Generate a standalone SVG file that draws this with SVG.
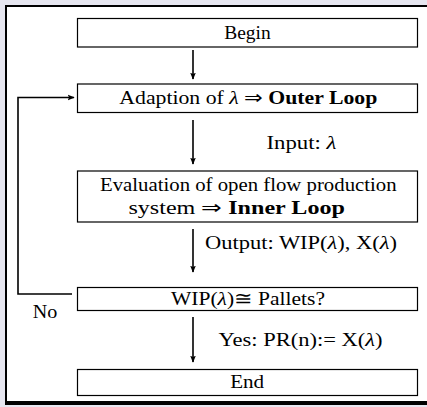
<svg xmlns="http://www.w3.org/2000/svg" width="427" height="407" viewBox="0 0 427 407">
<style>
.box{fill:#fff;stroke:#000;stroke-width:1.2}
.t{font-family:"Liberation Serif","Times New Roman",serif;font-size:18.5px;fill:#000;text-anchor:middle}
.tl{font-family:"Liberation Serif","Times New Roman",serif;font-size:18.5px;fill:#000}
.b{font-weight:bold}
.m{font-style:italic}
.c{fill:none;stroke:#000;stroke-width:1.6}
</style>
<defs>
<marker id="ah" viewBox="0 0 10 10" refX="9" refY="5" markerWidth="7" markerHeight="7" markerUnits="userSpaceOnUse" orient="auto">
<path d="M0,1 L10,5 L0,9 L2,5 Z" fill="#000"/>
</marker>
</defs>
<rect x="0" y="0" width="427" height="407" fill="#e6e6f0"/>
<rect x="6" y="6" width="430" height="397" fill="#fff" stroke="#000" stroke-width="2"/>
<line x1="5" y1="403" x2="427" y2="403" stroke="#000" stroke-width="4"/>

<g id="connectors">
<line class="c" x1="193" y1="50" x2="193" y2="79" marker-end="url(#ah)"/>
<line class="c" x1="193" y1="120" x2="193" y2="164" marker-end="url(#ah)"/>
<line class="c" x1="193" y1="229" x2="193" y2="272" marker-end="url(#ah)"/>
<line class="c" x1="193" y1="317" x2="193" y2="362" marker-end="url(#ah)"/>
<polyline class="c" points="72,294 18,294 18,97.5 74,97.5" marker-end="url(#ah)"/>
<text class="tl" x="266.5" y="149" textLength="70" lengthAdjust="spacingAndGlyphs">Input: <tspan class="m">λ</tspan></text>
<text class="tl" x="205" y="249" textLength="192" lengthAdjust="spacingAndGlyphs">Output: WIP(<tspan class="m">λ</tspan>), X(<tspan class="m">λ</tspan>)</text>
<text class="tl" x="218.5" y="346" textLength="164" lengthAdjust="spacingAndGlyphs">Yes: PR(n):= X(<tspan class="m">λ</tspan>)</text>
<text class="tl" x="32.7" y="318" textLength="24.6" lengthAdjust="spacingAndGlyphs">No</text>
</g>

<g id="begin">
<rect class="box" x="77.5" y="18.5" width="340" height="28.5"/>
<text class="t" x="247.5" y="38.5" textLength="46.5" lengthAdjust="spacingAndGlyphs">Begin</text>
</g>
<g id="adaption">
<rect class="box" x="77.5" y="84" width="340" height="28.5"/>
<text class="t" x="248.3" y="104" textLength="258" lengthAdjust="spacingAndGlyphs">Adaption of <tspan class="m">λ</tspan> ⇒ <tspan class="b">Outer Loop</tspan></text>
</g>
<g id="evaluation">
<rect class="box" x="77.5" y="171" width="340" height="51"/>
<text class="t" x="248.3" y="191" textLength="296.5" lengthAdjust="spacingAndGlyphs">Evaluation of open flow production</text>
<text class="t" x="236.7" y="214" textLength="216.5" lengthAdjust="spacingAndGlyphs">system ⇒ <tspan class="b">Inner Loop</tspan></text>
</g>
<g id="wip">
<rect class="box" x="77.5" y="287.5" width="340" height="23"/>
<text class="t" x="248" y="305" textLength="154" lengthAdjust="spacingAndGlyphs">WIP(<tspan class="m">λ</tspan>)≅ Pallets?</text>
</g>
<g id="end">
<rect class="box" x="77.5" y="369.5" width="340" height="26"/>
<text class="t" x="247.2" y="388" textLength="34" lengthAdjust="spacingAndGlyphs">End</text>
</g>
</svg>
